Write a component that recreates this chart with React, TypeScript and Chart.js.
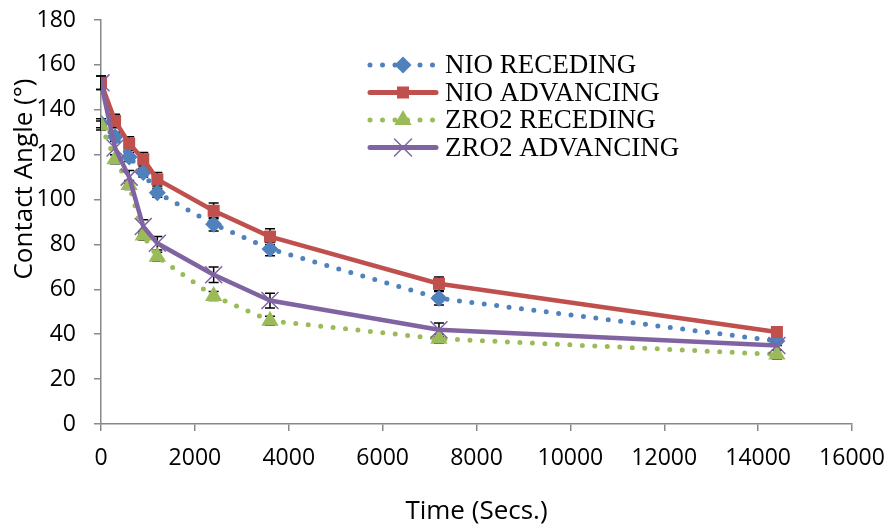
import React, { useEffect, useRef } from 'react';
import { Chart, registerables } from 'chart.js';

Chart.register(...registerables);

// ---- Data ----
const timeSecs = [0, 300, 600, 900, 1200, 2400, 3600, 7200, 14400];
const nioReceding = [134, 128, 119, 112, 103, 89, 78, 56, 37];
const nioAdvancing = [152, 135, 125, 118, 109, 95, 83.5, 62.5, 41];
const zro2Receding = [133, 118, 106.5, 84, 74.5, 57, 46, 38, 31];
const zro2Advancing = [152, 123, 110, 88, 80.5, 66.5, 55, 42, 35];
const nioRecedingErr = [2, 2, 2, 2, 2, 3, 3, 3, 2];
const nioAdvancingErr = [3, 3, 3, 3, 3, 3.5, 3.5, 3, 2];
const zro2RecedingErr = [2, 2, 2, 2, 2, 2, 2, 2, 2];
const zro2AdvancingErr = [3, 3, 3, 3, 3, 3.5, 3.3, 3, 2];
const seriesNames = ['NIO RECEDING', 'NIO ADVANCING', 'ZRO2 RECEDING', 'ZRO2 ADVANCING'];
const xTicks = { min: 0, max: 16000, step: 2000 };
const yTicks = { min: 0, max: 180, step: 20 };
const xTitle = 'Time (Secs.)';
const yTitle = 'Contact Angle (°)';

const BLUE = '#4F81BD';
const RED = '#C0504D';
const GREEN = '#9BBB59';
const PURPLE = '#8064A2';
const SANS = '"Open Sans", sans-serif';

type Style = {
  color: string;
  dotted: boolean;
  marker: 'rectRot' | 'rect' | 'triangle' | 'crossRot';
  radius: number;
};

const styles: Style[] = [
  { color: BLUE, dotted: true, marker: 'rectRot', radius: 8.5 },
  { color: RED, dotted: false, marker: 'rect', radius: 8.5 },
  { color: GREEN, dotted: true, marker: 'triangle', radius: 10 },
  { color: PURPLE, dotted: false, marker: 'crossRot', radius: 12 },
];

const seriesValues = [nioReceding, nioAdvancing, zro2Receding, zro2Advancing];
const seriesErrors = [nioRecedingErr, nioAdvancingErr, zro2RecedingErr, zro2AdvancingErr];

function drawMarker(ctx: CanvasRenderingContext2D, st: Style, x: number, y: number) {
  const r = st.radius;
  ctx.save();
  ctx.fillStyle = st.color;
  ctx.strokeStyle = st.color;
  ctx.setLineDash([]);
  ctx.beginPath();
  if (st.marker === 'rectRot') {
    ctx.moveTo(x, y - r);
    ctx.lineTo(x + r, y);
    ctx.lineTo(x, y + r);
    ctx.lineTo(x - r, y);
    ctx.closePath();
    ctx.fill();
  } else if (st.marker === 'rect') {
    const s = r * Math.SQRT1_2;
    ctx.rect(x - s, y - s, 2 * s, 2 * s);
    ctx.fill();
  } else if (st.marker === 'triangle') {
    const a = (2 * Math.PI) / 3;
    ctx.moveTo(x, y - r);
    ctx.lineTo(x + Math.sin(a) * r, y - Math.cos(a) * r);
    ctx.lineTo(x + Math.sin(2 * a) * r, y - Math.cos(2 * a) * r);
    ctx.closePath();
    ctx.fill();
  } else {
    const o = r * Math.SQRT1_2;
    ctx.lineWidth = 1.5;
    ctx.moveTo(x - o, y - o);
    ctx.lineTo(x + o, y + o);
    ctx.moveTo(x - o, y + o);
    ctx.lineTo(x + o, y - o);
    ctx.stroke();
  }
  ctx.restore();
}

const errorBarPlugin = {
  id: 'errorBars',
  beforeDatasetsDraw(chart: any) {
    const ctx = chart.ctx as CanvasRenderingContext2D;
    const xs = chart.scales.x;
    const ys = chart.scales.y;
    ctx.save();
    ctx.strokeStyle = '#000';
    ctx.lineWidth = 1.5;
    seriesValues.forEach((vals, si) => {
      vals.forEach((v, i) => {
        const e = seriesErrors[si][i];
        const px = xs.getPixelForValue(timeSecs[i]);
        const top = ys.getPixelForValue(v + e);
        const bot = ys.getPixelForValue(v - e);
        ctx.beginPath();
        ctx.moveTo(px, top);
        ctx.lineTo(px, bot);
        ctx.moveTo(px - 5, top);
        ctx.lineTo(px + 5, top);
        ctx.moveTo(px - 5, bot);
        ctx.lineTo(px + 5, bot);
        ctx.stroke();
      });
    });
    ctx.restore();
  },
};

const titleAndLegendPlugin = {
  id: 'insideLegend',
  afterDraw(chart: any) {
    const ctx = chart.ctx as CanvasRenderingContext2D;
    // y-axis title (Excel places it a bit above the axis centre)
    ctx.save();
    ctx.translate(25, 179);
    ctx.rotate(-Math.PI / 2);
    ctx.fillStyle = '#000';
    ctx.font = `26px ${SANS}`;
    ctx.textAlign = 'center';
    ctx.textBaseline = 'middle';
    ctx.fillText(yTitle, 0, 0);
    ctx.restore();

    const x0 = 368;
    const x1 = 438;
    const textX = 445;
    const y0 = 65;
    const dy = 27.5;
    ctx.save();
    seriesNames.forEach((name, i) => {
      const st = styles[i];
      const y = y0 + i * dy;
      ctx.beginPath();
      ctx.strokeStyle = st.color;
      ctx.lineWidth = 5;
      ctx.lineCap = 'round';
      ctx.setLineDash(st.dotted ? [0, 12.5] : []);
      ctx.moveTo(x0 + 2, y);
      ctx.lineTo(x1 - 2, y);
      ctx.stroke();
      drawMarker(ctx, st, (x0 + x1) / 2, y);
      ctx.setLineDash([]);
      ctx.fillStyle = '#000';
      ctx.font = '27px "Liberation Serif", "Times New Roman", serif';
      ctx.textAlign = 'left';
      ctx.textBaseline = 'middle';
      ctx.fillText(name, textX, y + 1);
    });
    ctx.restore();
  },
};

export default function App() {
  const canvasRef = useRef<HTMLCanvasElement | null>(null);

  useEffect(() => {
    document.body.style.margin = '0';
    const canvas = canvasRef.current;
    if (!canvas) return;

    const datasets = seriesValues.map((vals, si) => {
      const st = styles[si];
      return {
        label: seriesNames[si],
        data: vals.map((v, i) => ({ x: timeSecs[i], y: v })),
        borderColor: st.color,
        backgroundColor: st.color,
        borderWidth: st.dotted ? 5 : 4.5,
        borderDash: st.dotted ? [0, 12.5] : [],
        borderCapStyle: 'round' as const,
        borderJoinStyle: 'round' as const,
        pointStyle: st.marker,
        pointRadius: st.radius,
        pointBorderWidth: st.marker === 'crossRot' ? 1.5 : 0,
        pointBackgroundColor: st.color,
        pointBorderColor: st.color,
        tension: 0,
        showLine: true,
        fill: false,
        order: si === 3 ? 0 : 4 - si,
      };
    });

    const chart = new Chart(canvas, {
      type: 'scatter',
      data: { datasets },
      plugins: [errorBarPlugin, titleAndLegendPlugin],
      options: {
        animation: false,
        responsive: false,
        maintainAspectRatio: false,
        layout: { padding: { top: 20, right: 37, left: 0, bottom: 0 } },
        plugins: {
          legend: { display: false },
          tooltip: { enabled: false },
        },
        scales: {
          x: {
            type: 'linear',
            min: xTicks.min,
            max: xTicks.max,
            afterFit: (scale: any) => {
              scale.height = 103;
              scale.paddingLeft = 0;
              scale.paddingRight = 0;
            },
            ticks: {
              stepSize: xTicks.step,
              color: '#000',
              padding: 14,
              maxRotation: 0,
              callback: (v: any) => String(v),
              font: { family: SANS, size: 23 },
            },
            grid: {
              drawOnChartArea: false,
              drawTicks: true,
              tickLength: 7,
              color: '#888888',
              lineWidth: 1.5,
            },
            border: { display: true, color: '#888888', width: 1.5 },
            title: {
              display: true,
              text: xTitle,
              color: '#000',
              font: { family: SANS, size: 26 },
              padding: { top: 0, bottom: 0 },
            },
          },
          y: {
            type: 'linear',
            min: yTicks.min,
            max: yTicks.max,
            afterFit: (scale: any) => {
              scale.width = 101;
              scale.paddingTop = 0;
              scale.paddingBottom = 0;
            },
            ticks: {
              stepSize: yTicks.step,
              color: '#000',
              padding: 18,
              callback: (v: any) => String(v),
              font: { family: SANS, size: 23 },
            },
            grid: {
              drawOnChartArea: false,
              drawTicks: true,
              tickLength: 7,
              color: '#888888',
              lineWidth: 1.5,
            },
            border: { display: true, color: '#888888', width: 1.5 },
            title: { display: false },
          },
        },
      } as any,
    });

    return () => {
      chart.destroy();
    };
  }, []);

  return (
    <div style={{ width: 889, height: 527, background: '#fff' }}>
      <canvas ref={canvasRef} width={889} height={527} style={{ display: 'block' }} />
    </div>
  );
}
